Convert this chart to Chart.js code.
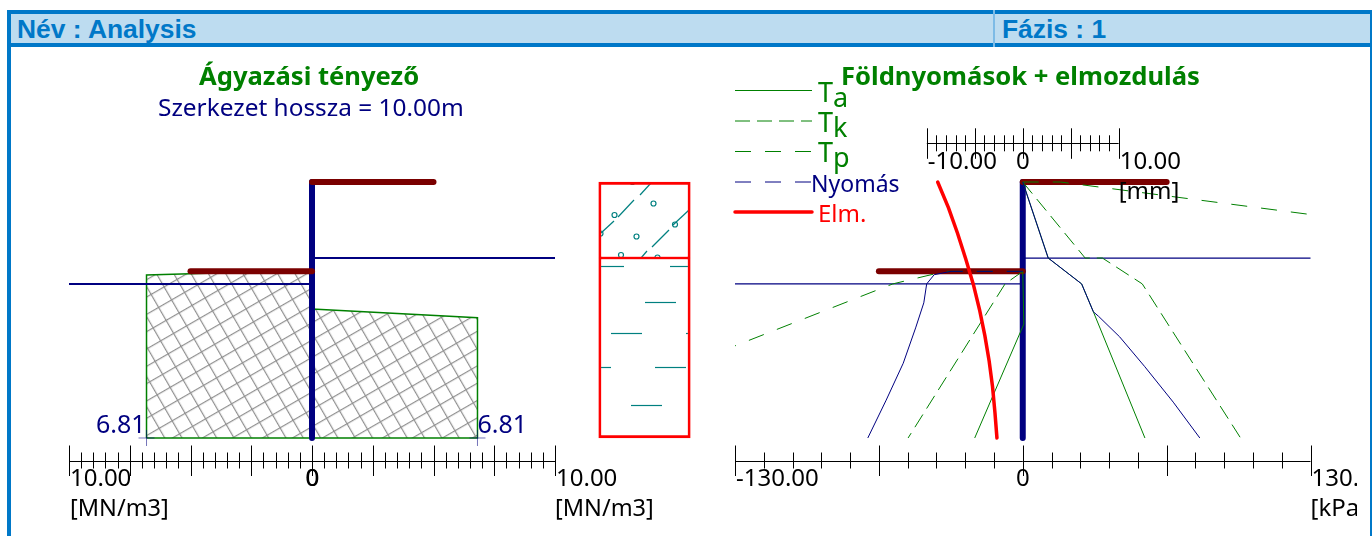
<!DOCTYPE html>
<html lang="hu">
<head>
<meta charset="utf-8">
<title>Analysis</title>
<script src="https://cdn.jsdelivr.net/npm/chart.js@4"></script>
<style>
html,body{margin:0;padding:0;background:#fff;width:1372px;height:536px;overflow:hidden}
#frame{position:absolute;left:7px;top:10px;width:1365px;height:600px;border:4px solid #0078c8;border-right-width:2px;box-sizing:border-box}
#band{position:absolute;left:11px;top:14px;width:1359px;height:29px;background:#bddcf0}
#bandrule{position:absolute;left:7px;top:43px;width:1365px;height:4px;background:#0078c8}
#divider{position:absolute;left:993px;top:10px;width:2px;height:37px;background:#7dbbe6}
.t{position:absolute;white-space:nowrap;line-height:30px;font-family:"Noto Sans",sans-serif}
.head{color:#0078c8;font:bold 26.4px/30px "Liberation Sans",sans-serif}
.title{color:#008000;font-weight:bold;font-size:25.6px}
.sub{color:#000080;font-size:24.4px}
canvas{position:absolute;top:0}
</style>
</head>
<body>
<div id="frame"></div><div id="band"></div><div id="bandrule"></div><div id="divider"></div>
<div class="t head" style="left:17px;top:14px">Név : Analysis</div>
<div class="t head" style="left:1002px;top:14px">Fázis : 1</div>
<canvas id="cLeft" style="left:12px"></canvas>
<canvas id="cSoil" style="left:590px"></canvas>
<canvas id="cRight" style="left:700px"></canvas>
<div class="t title" style="left:199px;top:61px">Ágyazási tényező</div>
<div class="t sub" style="left:158px;top:92px">Szerkezet hossza = 10.00m</div>
<div class="t title" style="left:841px;top:61px">Földnyomások + elmozdulás</div>
<script>
/* ---------- depth axis (m) ---------- */
const depthAxisMin = -1.512, depthAxisMax = 10.879;
const wallDepth = [0, 10];
const waterDepthRight = [2.97, 2.97];
const waterDepthLeft = [3.98, 3.98];
const anchorUpperDepth = [0, 0];
const anchorLowerDepth = [3.49, 3.49];

/* ---------- left chart: subgrade reaction (MN/m3) ---------- */
const subgradeTickValues = [-10, 0, 10];
const subgradeTickLabels = ['10.00', '0', '10.00'];
const subgradeLeftX = [-6.81, -6.81, 0, 0, -6.81];
const subgradeLeftDepth = [10, 3.63, 3.45, 10, 10];
const subgradeRightX = [0, 6.81, 6.81, 0, 0];
const subgradeRightDepth = [4.96, 5.3, 10, 10, 4.96];
const subgradeMarkX = [-6.81, 6.81];
const subgradeMarkDepth = [10, 10];
const subgradeMarkLabels = ['6.81', '6.81'];
const leftWaterRightX = [0, 10], leftWaterLeftX = [-10, 0];
const leftWallX = [0, 0];
const leftAnchorUpperX = [0, 5], leftAnchorLowerX = [-5, 0];

/* ---------- soil column ---------- */
const soilColumnName = ['Talaj'];
const soilUpperLayer = [[0, 2.97]];
const soilLowerLayer = [[2.97, 10]];

/* ---------- right chart: earth pressures (kPa) ---------- */
const pressureTickValues = [-130, 0, 130];
const pressureTickLabels = ['-130.00', '0', '130.00'];
const taRightX = [0, 11.5, 26.6, 31.9, 55.2];
const taRightDepth = [0, 2.97, 3.98, 5.07, 10];
const taLeftX = [0, 0.5, -21.7];
const taLeftDepth = [3.49, 5.55, 10];
const tkRightX = [0, 28.2, 36, 54, 98.4];
const tkRightDepth = [0, 2.97, 2.97, 3.98, 10];
const tkLeftX = [0, -8, -51.8];
const tkLeftDepth = [3.49, 3.98, 10];
const tpRightX = [0, 17, 130];
const tpRightDepth = [0, 0, 1.27];
const tpLeftX = [0, -35, -58.7, -130];
const tpLeftDepth = [3.49, 3.49, 3.98, 6.4];
const pressRightX = [0, 11.5, 26.6, 31.9, 34.3, 43.8, 55, 68, 80];
const pressRightDepth = [0, 2.97, 3.98, 5.07, 5.25, 6.05, 7.2, 8.6, 10];
const pressLeftX = [-32.4, -40, -43.4, -44.7, -48.4, -54, -61.7, -70];
const pressLeftDepth = [3.49, 3.62, 3.98, 4.72, 5.7, 7.08, 8.52, 10];
const pressTopX = [0, -32.4];
const pressTopDepth = [3.49, 3.49];
const rightWaterRightX = [0, 130], rightWaterLeftX = [-130, 0];
const rightWallX = [0, 0];
const rightAnchorUpperX = [0, 65], rightAnchorLowerX = [-65, 0];

/* ---------- right chart: displacement (mm) ---------- */
const dispTickValues = [-10, 0, 10];
const dispTickLabels = ['-10.00', '0', '10.00'];
const dispX = [-8.87, -7.75, -6.8, -5.95, -5.15, -4.5, -3.95, -3.5, -3.15, -2.9, -2.69];
const dispDepth = [0, 1, 2, 3, 4, 5, 6, 7, 8, 9, 10];

/* ---------- shared styling ---------- */
const NAVY = '#000080', GREEN = '#008000', DARKRED = '#7a0000', RED = '#ff0000', TEAL = '#008080';
const UI_FONT = '"Noto Sans", sans-serif';
const AXIS_FONT = '24px "Noto Sans", sans-serif';
Chart.defaults.font.family = UI_FONT;
Chart.defaults.animation = false;
Chart.defaults.responsive = false;

const zip = (xs, ys) => xs.map((x, i) => ({ x, y: ys[i] }));
const line = (label, xs, ys, style) => Object.assign({
  label, data: zip(xs, ys), showLine: true, pointRadius: 0, borderWidth: 1, tension: 0, clip: false, fill: false
}, style);

function hatchPattern(phaseX, phaseY) {
  const size = 15;
  const tile = document.createElement('canvas');
  tile.width = tile.height = size;
  const g = tile.getContext('2d');
  g.fillStyle = '#8f8f8f';
  g.fillRect(0, 0, size, 1.2);
  g.fillRect(0, 0, 1.2, size);
  const p = g.createPattern(tile, 'repeat');
  p.setTransform(new DOMMatrix().translate(phaseX, phaseY).rotate(-30));
  return p;
}
function soilTile(w, h, ox, oy, segs, circles) {
  const tile = document.createElement('canvas');
  tile.width = w; tile.height = h;
  const g = tile.getContext('2d');
  g.fillStyle = '#fff'; g.fillRect(0, 0, w, h);
  g.strokeStyle = TEAL; g.lineWidth = 1.2;
  segs.forEach(s => { g.beginPath(); g.moveTo(s[0], s[1]); g.lineTo(s[2], s[3]); g.stroke(); });
  (circles || []).forEach(c => { g.beginPath(); g.arc(c[0], c[1], 2.5, 0, Math.PI * 2); g.stroke(); });
  const p = g.createPattern(tile, 'repeat');
  p.setTransform(new DOMMatrix().translate(ox, oy));
  return p;
}

/* draws ticks on both sides of each axis line and the tick and unit labels */
const engAxis = {
  id: 'engAxis',
  afterDraw(chart, args, opts) {
    const ctx = chart.ctx;
    ctx.save();
    (opts.axes || []).forEach(a => {
      const s = chart.scales[a.id];
      const y = (a.edge === 'top' ? chart.chartArea.top : chart.chartArea.bottom);
      const ticks = s.ticks;
      const px0 = s.getPixelForValue(ticks[0].value), px1 = s.getPixelForValue(ticks[ticks.length - 1].value);
      ctx.strokeStyle = '#000'; ctx.lineWidth = 1;
      ctx.beginPath(); ctx.moveTo(px0, Math.round(y) + 0.5); ctx.lineTo(px1, Math.round(y) + 0.5); ctx.stroke();
      ticks.forEach(t => {
        const px = Math.round(s.getPixelForValue(t.value)) + 0.5;
        const ratio = t.value / a.major;
        const isMajor = Math.abs(ratio - Math.round(ratio)) < 1e-6;
        const up = isMajor ? 15 : 8, down = isMajor ? 15.5 : 8;
        ctx.beginPath(); ctx.moveTo(px, y - up); ctx.lineTo(px, y + down); ctx.stroke();
      });
      ctx.font = AXIS_FONT; ctx.fillStyle = '#000'; ctx.textBaseline = 'alphabetic';
      ticks.forEach(t => {
        if (!t.label) return;
        const px = s.getPixelForValue(t.value);
        ctx.textAlign = t.value === 0 ? 'center' : 'left';
        ctx.fillText(t.label, px + (t.value === 0 ? 0 : 1), a.labelBaseline);
        if (t.value === 0 && a.boldZero) ctx.fillText(t.label, px + 0.7, a.labelBaseline);
      });
      ctx.textAlign = 'left';
      ctx.font = a.unitFont || AXIS_FONT;
      (a.units || []).forEach(u => {
        ctx.fillText(u.text, s.getPixelForValue(u.at) + (u.dx || 0), u.baseline);
      });
    });
    ctx.restore();
  }
};

/* value labels beside the subgrade markers */
const markLabels = {
  id: 'markLabels',
  afterDatasetsDraw(chart, args, opts) {
    if (!opts.labels) return;
    const ctx = chart.ctx, sx = chart.scales.x, sy = chart.scales.y;
    ctx.save();
    ctx.font = '25px ' + UI_FONT; ctx.fillStyle = NAVY; ctx.textBaseline = 'alphabetic';
    subgradeMarkX.forEach((v, i) => {
      ctx.textAlign = v < 0 ? 'right' : 'left';
      ctx.fillText(subgradeMarkLabels[i], sx.getPixelForValue(v) + (v < 0 ? -1 : 0), sy.getPixelForValue(subgradeMarkDepth[i]) - 5);
    });
    ctx.restore();
  }
};

/* legend at the upper left of the right chart, read from the dataset styles */
const rowLegend = {
  id: 'rowLegend',
  afterDraw(chart, args, opts) {
    if (!opts.rows) return;
    const ctx = chart.ctx, left = chart.chartArea.left;
    ctx.save();
    opts.rows.forEach(r => {
      const ds = chart.data.datasets.find(d => d.label === r.dataset);
      ctx.strokeStyle = ds.borderColor;
      ctx.lineWidth = ds.borderWidth;
      ctx.lineCap = ds.borderCapStyle || 'butt';
      ctx.setLineDash(ds.legendDash || ds.borderDash || []);
      ctx.beginPath(); ctx.moveTo(left, r.y); ctx.lineTo(left + 77, r.y); ctx.stroke();
      ctx.setLineDash([]);
      ctx.fillStyle = r.color; ctx.textAlign = 'left'; ctx.textBaseline = 'alphabetic';
      ctx.font = (r.size || 24) + 'px ' + UI_FONT;
      ctx.fillText(r.text, left + r.dx, r.baseline);
      if (r.sub) {
        const w = ctx.measureText(r.text).width;
        ctx.fillText(r.sub, left + r.dx + w, r.baseline + 5);
      }
    });
    ctx.restore();
  }
};
Chart.register(engAxis, markLabels, rowLegend);

const zeroHeight = s => { s.height = 0; };
function hAxis(min, max, step, values, labels, position, keep) {
  return {
    type: 'linear', position, min, max,
    grid: { display: false }, border: { display: false },
    afterFit: zeroHeight,
    afterBuildTicks: keep ? (s => { s.ticks = s.ticks.filter(keep); }) : undefined,
    ticks: {
      display: false, stepSize: step, autoSkip: false, includeBounds: false, maxRotation: 0,
      callback: v => { const i = values.indexOf(v); return i < 0 ? '' : labels[i]; }
    }
  };
}
const depthAxis = { type: 'linear', display: false, reverse: true, min: depthAxisMin, max: depthAxisMax };
const pad = (l, r) => ({ padding: { left: l, right: r, top: 143.3, bottom: 536 - 460.5 } });

/* ---------- left chart ---------- */
const cLeft = document.getElementById('cLeft');
cLeft.width = 650; cLeft.height = 536;
const hatchOriginX = 163.3 - 12, hatchOriginY = 286.7;
new Chart(cLeft, {
  type: 'scatter',
  data: { datasets: [
    line('Ágyazási bal', subgradeLeftX, subgradeLeftDepth, { borderColor: GREEN, borderWidth: 1.5, backgroundColor: hatchPattern(hatchOriginX, hatchOriginY), fill: 'shape', order: 5 }),
    line('Ágyazási jobb', subgradeRightX, subgradeRightDepth, { borderColor: GREEN, borderWidth: 1.5, backgroundColor: hatchPattern(hatchOriginX, hatchOriginY), fill: 'shape', order: 5 }),
    line('Víz jobb', leftWaterRightX, waterDepthRight, { borderColor: NAVY, borderWidth: 2, order: 4 }),
    line('Víz bal', leftWaterLeftX, waterDepthLeft, { borderColor: NAVY, borderWidth: 2, order: 4 }),
    line('Szerkezet', leftWallX, wallDepth, { borderColor: NAVY, borderWidth: 6, borderCapStyle: 'round', order: 3 }),
    line('Horgony felső', leftAnchorUpperX, anchorUpperDepth, { borderColor: DARKRED, borderWidth: 6, borderCapStyle: 'round', order: 2 }),
    line('Horgony alsó', leftAnchorLowerX, anchorLowerDepth, { borderColor: DARKRED, borderWidth: 6, borderCapStyle: 'round', order: 2 }),
    { label: 'Érték', data: zip(subgradeMarkX, subgradeMarkDepth), showLine: false, pointStyle: 'cross', pointRadius: 8, pointBorderColor: 'rgba(0,0,128,0.55)', pointBorderWidth: 1, clip: false, order: 1 }
  ] },
  options: {
    layout: pad(57, 107),
    scales: { x: hAxis(-10, 10, 0.5, subgradeTickValues, subgradeTickLabels, 'bottom'), y: depthAxis },
    plugins: {
      legend: { display: false }, title: { display: false }, tooltip: { enabled: false },
      markLabels: { labels: true },
      engAxis: { axes: [{ id: 'x', edge: 'bottom', major: 2.5, labelBaseline: 486, boldZero: true, unitFont: '23.5px ' + UI_FONT,
        units: [{ text: '[MN/m3]', at: -10, baseline: 516, dx: 1 }, { text: '[MN/m3]', at: 10, baseline: 516 }] }] }
    }
  }
});

/* ---------- soil column ---------- */
const cSoil = document.getElementById('cSoil');
cSoil.width = 110; cSoil.height = 536;
const upperPattern = soilTile(91, 77, 9, 182,
  [[2, 51, 15, 39], [19, 35, 35, 18], [41, 13, 52, 1], [74, 43, 90, 28], [53, 65, 70, 48], [42, 76, 48, 69]],
  [[54.5, 21.5], [15.5, 33], [37.5, 54.5], [76, 42.5], [1.5, 51.5], [22, 73], [58.5, 75.5], [33.5, 0]]);
const lowerPattern = soilTile(91, 180, 9, 258,
  [[2, 8.5, 25, 8.5], [71, 8.5, 90, 8.5], [46, 44.5, 77, 44.5], [12, 75.5, 43, 75.5], [87, 75.5, 90, 75.5], [2, 109.5, 12, 109.5], [56, 109.5, 87, 109.5], [32, 147.5, 63, 147.5]]);
new Chart(cSoil, {
  type: 'bar',
  data: { labels: soilColumnName, datasets: [
    { label: 'Felső réteg', data: soilUpperLayer, grouped: false, backgroundColor: upperPattern, borderColor: RED, borderWidth: { top: 3, left: 3, right: 3, bottom: 1.5 }, borderSkipped: false, barPercentage: 1, categoryPercentage: 1 },
    { label: 'Alsó réteg', data: soilLowerLayer, grouped: false, backgroundColor: lowerPattern, borderColor: RED, borderWidth: { top: 1.5, left: 3, right: 3, bottom: 3 }, borderSkipped: false, barPercentage: 1, categoryPercentage: 1 }
  ] },
  options: {
    layout: pad(8.5, 9.5),
    scales: {
      x: { type: 'category', display: false, grid: { display: false } },
      y: depthAxis
    },
    plugins: { legend: { display: false }, tooltip: { enabled: false } }
  }
});

/* ---------- right chart ---------- */
const cRight = document.getElementById('cRight');
cRight.width = 657; cRight.height = 536;
const dashTk = [15, 7], dashTp = [16, 14];
new Chart(cRight, {
  type: 'scatter',
  data: { datasets: [
    line('Ta', taRightX, taRightDepth, { xAxisID: 'x', borderColor: GREEN, order: 5 }),
    line('Ta bal', taLeftX, taLeftDepth, { xAxisID: 'x', borderColor: GREEN, order: 5 }),
    line('Tk', tkRightX, tkRightDepth, { xAxisID: 'x', borderColor: GREEN, borderDash: dashTk, order: 5 }),
    line('Tk bal', tkLeftX, tkLeftDepth, { xAxisID: 'x', borderColor: GREEN, borderDash: dashTk, order: 5 }),
    line('Tp', tpRightX, tpRightDepth, { xAxisID: 'x', borderColor: GREEN, borderDash: dashTp, order: 5 }),
    line('Tp bal', tpLeftX, tpLeftDepth, { xAxisID: 'x', borderColor: GREEN, borderDash: dashTp, order: 5 }),
    line('Víz jobb', rightWaterRightX, waterDepthRight, { xAxisID: 'x', borderColor: NAVY, borderWidth: 1.2, order: 8 }),
    line('Víz bal', rightWaterLeftX, waterDepthLeft, { xAxisID: 'x', borderColor: NAVY, borderWidth: 1.2, order: 8 }),
    line('Szerkezet', rightWallX, wallDepth, { xAxisID: 'x', borderColor: NAVY, borderWidth: 6, borderCapStyle: 'round', order: 7 }),
    line('Horgony felső', rightAnchorUpperX, anchorUpperDepth, { xAxisID: 'x', borderColor: DARKRED, borderWidth: 6, borderCapStyle: 'round', order: 6 }),
    line('Horgony alsó', rightAnchorLowerX, anchorLowerDepth, { xAxisID: 'x', borderColor: DARKRED, borderWidth: 6, borderCapStyle: 'round', order: 6 }),
    line('Nyomás', pressRightX, pressRightDepth, { xAxisID: 'x', borderColor: NAVY, legendDash: dashTp, order: 4 }),
    line('Nyomás bal', pressLeftX, pressLeftDepth, { xAxisID: 'x', borderColor: NAVY, order: 4 }),
    line('Nyomás felső', pressTopX, pressTopDepth, { xAxisID: 'x', borderColor: NAVY, borderDash: dashTp, order: 4 }),
    line('Elm.', dispX, dispDepth, { xAxisID: 'xDisp', borderColor: RED, borderWidth: 3.5, borderCapStyle: 'round', order: 1 })
  ] },
  options: {
    layout: pad(35, 46.5),
    scales: {
      x: hAxis(-130, 130, 13, pressureTickValues, pressureTickLabels, 'bottom'),
      xDisp: hAxis(-30, 30, 1, dispTickValues, dispTickLabels, 'top', t => Math.abs(t.value) <= 10),
      y: depthAxis
    },
    plugins: {
      legend: { display: false }, tooltip: { enabled: false },
      engAxis: { axes: [
        { id: 'x', edge: 'bottom', major: 65, labelBaseline: 486, units: [{ text: '[kPa]', at: 130, baseline: 516 }] },
        { id: 'xDisp', edge: 'top', major: 5, labelBaseline: 169, units: [{ text: '[mm]', at: 10, baseline: 199 }] }
      ] },
      rowLegend: { rows: [
        { dataset: 'Ta', text: 'T', sub: 'a', color: GREEN, size: 27, y: 90.5, dx: 83, baseline: 102 },
        { dataset: 'Tk', text: 'T', sub: 'k', color: GREEN, size: 27, y: 121, dx: 83, baseline: 132 },
        { dataset: 'Tp', text: 'T', sub: 'p', color: GREEN, size: 27, y: 151.5, dx: 83, baseline: 162 },
        { dataset: 'Nyomás', text: 'Nyomás', color: NAVY, size: 23, y: 182, dx: 76, baseline: 192 },
        { dataset: 'Elm.', text: 'Elm.', color: RED, size: 24, y: 212, dx: 83, baseline: 222 }
      ] }
    }
  }
});
</script>
</body>
</html>
